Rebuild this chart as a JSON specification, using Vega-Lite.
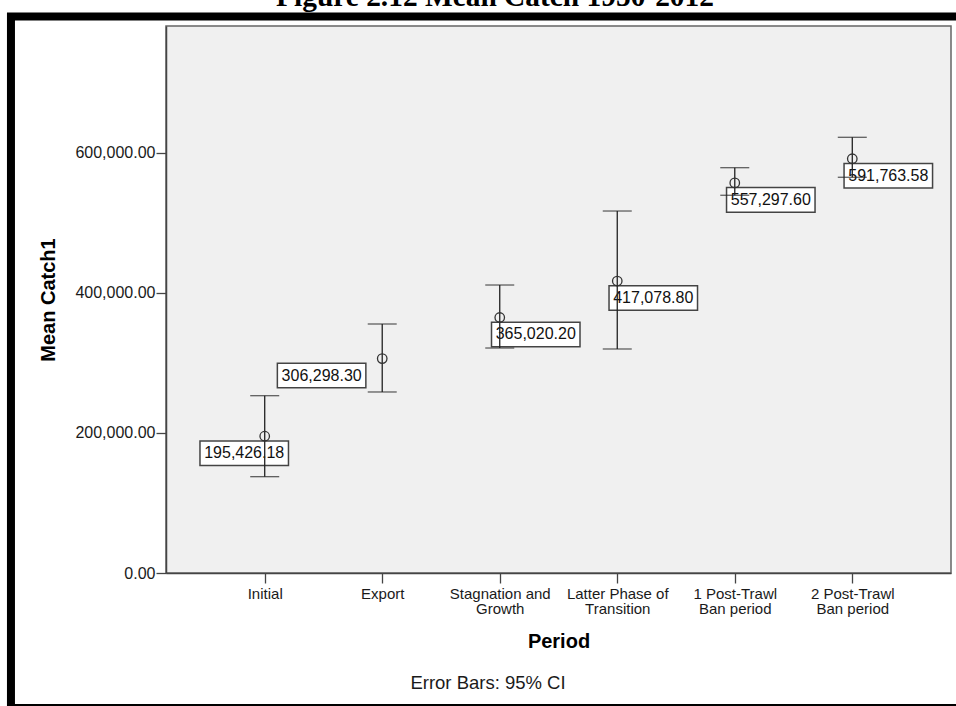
{
  "$schema": "https://vega.github.io/schema/vega-lite/v6.json",
  "width": 785,
  "height": 547,
  "autosize": {"type": "none"},
  "padding": {"left": 166, "top": 26, "right": 5, "bottom": 133},
  "background": "white",
  "title": {
    "text": "Figure 2.12 Mean Catch 1950-2012",
    "font": "Liberation Serif",
    "fontSize": 29.4,
    "fontWeight": "bold",
    "color": "black",
    "anchor": "middle",
    "frame": "group",
    "baseline": "alphabetic",
    "offset": -23,
    "dx": -63.5
  },
  "config": {
    "font": "Liberation Sans",
    "view": {"fill": "#F0F0F0", "stroke": "#666666", "strokeWidth": 1.5},
    "axis": {
      "domainColor": "#444444",
      "domainWidth": 1.5,
      "tickColor": "#444444",
      "tickWidth": 1.3,
      "tickSize": 10,
      "labelColor": "#1a1a1a",
      "titleColor": "#000000",
      "grid": false
    }
  },
  "resolve": {"scale": {"x": "independent"}, "axis": {"x": "independent"}},
  "layer": [
    {
      "data": {"values": [{}]},
      "mark": {"type": "rect", "fillOpacity": 0, "stroke": "black", "strokeWidth": 8},
      "encoding": {
        "x": {
          "datum": -0.1975,
          "type": "quantitative",
          "scale": {"domain": [0, 1], "nice": false, "zero": false},
          "axis": {
            "orient": "bottom",
            "title": "Error Bars: 95% CI",
            "labels": false,
            "ticks": false,
            "domain": false,
            "titleFontSize": 18.5,
            "titleFontWeight": "normal",
            "titleColor": "#1a1a1a",
            "titleBaseline": "alphabetic",
            "titleAnchor": "start",
            "titleAlign": "center",
            "titleX": 321.5,
            "titleY": 115.3
          }
        },
        "x2": {"datum": 1.2},
        "y": {"datum": 795000, "type": "quantitative", "title": "Mean Catch1"},
        "y2": {"datum": -192850}
      }
    },
    {
      "data": {
        "values": [
          {"Period": "Initial", "Mean": 195426.18, "Lower": 137600, "Upper": 253300},
          {"Period": "Export", "Mean": 306298.30, "Lower": 258600, "Upper": 355700},
          {"Period": "Stagnation and Growth", "Mean": 365020.20, "Lower": 321400, "Upper": 411400},
          {"Period": "Latter Phase of Transition", "Mean": 417078.80, "Lower": 320000, "Upper": 517100},
          {"Period": "1 Post-Trawl Ban period", "Mean": 557297.60, "Lower": 539600, "Upper": 579000},
          {"Period": "2 Post-Trawl Ban period", "Mean": 591763.58, "Lower": 565300, "Upper": 622400}
        ]
      },
      "encoding": {
        "x": {
          "field": "Period",
          "type": "nominal",
          "sort": null,
          "scale": {
            "type": "point",
            "padding": 0.84,
            "domain": ["Initial", "Export", "Stagnation and Growth", "Latter Phase of Transition", "1 Post-Trawl Ban period", "2 Post-Trawl Ban period"]
          },
          "axis": {
            "orient": "bottom",
            "title": "Period",
            "titleFontSize": 20,
            "titleFontWeight": "bold",
            "titleBaseline": "alphabetic",
            "titleY": 74.3,
            "labelAngle": 0,
            "labelFontSize": 15,
            "labelLineHeight": 15.5,
            "labelBaseline": "top",
            "labelPadding": 3,
            "labelExpr": "datum.label == 'Stagnation and Growth' ? ['Stagnation and', 'Growth'] : datum.label == 'Latter Phase of Transition' ? ['Latter Phase of', 'Transition'] : datum.label == '1 Post-Trawl Ban period' ? ['1 Post-Trawl', 'Ban period'] : datum.label == '2 Post-Trawl Ban period' ? ['2 Post-Trawl', 'Ban period'] : datum.label"
          }
        }
      },
      "layer": [
        {
          "mark": {"type": "point", "filled": true, "fill": "white", "stroke": "#444444", "strokeWidth": 1.5, "size": 7832, "opacity": 1},
          "encoding": {
            "y": {
              "field": "Mean",
              "type": "quantitative",
              "title": "Mean Catch1",
              "scale": {"domain": [0, 781400], "nice": false, "zero": true},
              "axis": {
                "values": [0, 200000, 400000, 600000],
                "format": ",.2f",
                "labelFontSize": 16,
                "labelPadding": 1,
                "titleFontSize": 20,
                "titleFontWeight": "bold",
                "titleBaseline": "alphabetic",
                "titleX": -112
              }
            },
            "shape": {
              "field": "Period",
              "type": "nominal",
              "legend": null,
              "scale": {
                "domain": ["Initial", "Export", "Stagnation and Growth", "Latter Phase of Transition", "1 Post-Trawl Ban period", "2 Post-Trawl Ban period"],
                "range": [
                  "M-1.463,0.107L0.537,0.107L0.537,0.661L-1.463,0.661Z",
                  "M-2.370,0.107L-0.370,0.107L-0.370,0.661L-2.370,0.661Z",
                  "M-0.186,0.107L1.814,0.107L1.814,0.661L-0.186,0.661Z",
                  "M-0.186,0.107L1.814,0.107L1.814,0.661L-0.186,0.661Z",
                  "M-0.186,0.107L1.814,0.107L1.814,0.661L-0.186,0.661Z",
                  "M-0.186,0.107L1.814,0.107L1.814,0.661L-0.186,0.661Z"
                ]
              }
            }
          }
        },
        {
          "transform": [{"filter": "datum.Period == 'Initial'"}],
          "mark": {"type": "text", "fontSize": 16, "color": "#111111", "align": "center", "baseline": "middle", "dx": -20.5, "dy": 17},
          "encoding": {
            "y": {"field": "Mean", "type": "quantitative", "title": "Mean Catch1"},
            "text": {"field": "Mean", "type": "quantitative", "format": ",.2f"}
          }
        },
        {
          "transform": [{"filter": "datum.Period == 'Export'"}],
          "mark": {"type": "text", "fontSize": 16, "color": "#111111", "align": "center", "baseline": "middle", "dx": -60.6, "dy": 17},
          "encoding": {
            "y": {"field": "Mean", "type": "quantitative", "title": "Mean Catch1"},
            "text": {"field": "Mean", "type": "quantitative", "format": ",.2f"}
          }
        },
        {
          "transform": [{"filter": "datum.Period != 'Initial' && datum.Period != 'Export'"}],
          "mark": {"type": "text", "fontSize": 16, "color": "#111111", "align": "center", "baseline": "middle", "dx": 36, "dy": 17},
          "encoding": {
            "y": {"field": "Mean", "type": "quantitative", "title": "Mean Catch1"},
            "text": {"field": "Mean", "type": "quantitative", "format": ",.2f"}
          }
        },
        {
          "mark": {"type": "rule", "color": "#222222", "strokeWidth": 1.3},
          "encoding": {
            "y": {"field": "Lower", "type": "quantitative", "title": "Mean Catch1"},
            "y2": {"field": "Upper"}
          }
        },
        {
          "mark": {"type": "tick", "color": "#222222", "size": 29, "thickness": 1.3, "orient": "horizontal"},
          "encoding": {
            "y": {"field": "Lower", "type": "quantitative", "title": "Mean Catch1"}
          }
        },
        {
          "mark": {"type": "tick", "color": "#222222", "size": 29, "thickness": 1.3, "orient": "horizontal"},
          "encoding": {
            "y": {"field": "Upper", "type": "quantitative", "title": "Mean Catch1"}
          }
        },
        {
          "mark": {"type": "point", "filled": false, "stroke": "#333333", "strokeWidth": 1.3, "size": 90, "shape": "circle", "opacity": 1},
          "encoding": {
            "y": {"field": "Mean", "type": "quantitative", "title": "Mean Catch1"}
          }
        }
      ]
    }
  ]
}
